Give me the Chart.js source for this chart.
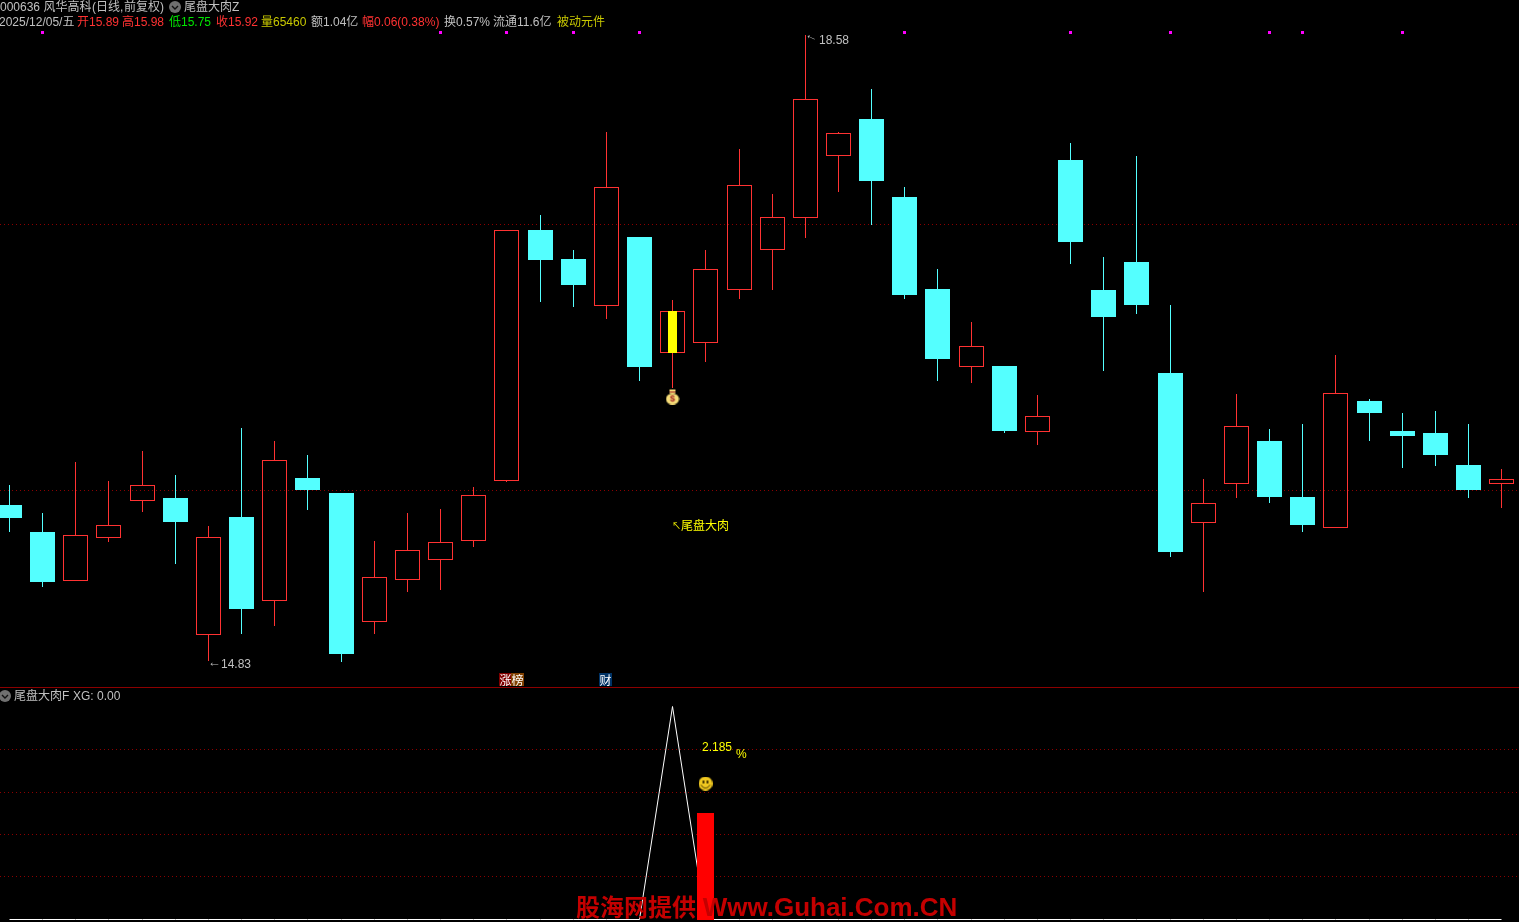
<!DOCTYPE html>
<html>
<head>
<meta charset="utf-8">
<title>尾盘大肉</title>
<script src="https://cdn.jsdelivr.net/npm/chart.js@4"></script>
<style>
  html, body { margin: 0; padding: 0; background: #000; width: 1519px; height: 922px; overflow: hidden; }
  canvas { position: absolute; left: 0; display: block; }
  #kline { top: 0; }
  #xg { top: 688px; }
  #split { position: absolute; left: 0; top: 687px; width: 1519px; height: 1px; background: #8c0000; }
  .t { position: absolute; white-space: pre; font: 12px/14px "Liberation Sans", "Noto Sans CJK SC", sans-serif; color: #c0c0c0; }
  .r { color: #ff3232; } .g { color: #00e600; } .y { color: #c8c800; } .ye { color: #ffff00; }
  .badge { position: absolute; top: 673px; width: 13px; height: 13px; color: #fff; text-align: center; font: 12px/13px "Noto Sans CJK SC", sans-serif; }
  .drop { position: absolute; width: 12px; height: 12px; }
  #mark { position: absolute; left: 576px; top: 892px; white-space: pre; color: #c40000; font: bold 24px/30px "Liberation Sans", "Noto Sans CJK SC", sans-serif; }
  #mark span { font-size: 26px; }
</style>
</head>
<body>
<canvas id="kline" width="1519" height="687"></canvas>
<div id="split"></div>
<canvas id="xg" width="1519" height="234"></canvas>

<span class="t" style="left:0;top:0">000636 风华高科</span>
<span class="t" style="left:92px;top:0">(日线,</span>
<span class="t" style="left:124px;top:0">前复权)</span>
<svg class="drop" style="left:169px;top:1px" viewBox="0 0 12 12"><circle cx="6" cy="6" r="6" fill="#707070"/><path d="M3 5l3 3 3-3" stroke="#111" stroke-width="1.4" fill="none"/></svg>
<span class="t" style="left:184px;top:0">尾盘大肉Z</span>

<span class="t" style="left:-1px;top:15px">2025/12/05/五</span>
<span class="t r" style="left:77px;top:15px">开15.89</span>
<span class="t r" style="left:122px;top:15px">高15.98</span>
<span class="t g" style="left:169px;top:15px">低15.75</span>
<span class="t r" style="left:216px;top:15px">收15.92</span>
<span class="t y" style="left:261px;top:15px">量65460</span>
<span class="t" style="left:311px;top:15px">额1.04亿</span>
<span class="t r" style="left:362px;top:15px">幅0.06(0.38%)</span>
<span class="t" style="left:444px;top:15px">换0.57%</span>
<span class="t" style="left:493px;top:15px">流通11.6亿</span>
<span class="t y" style="left:557px;top:15px">被动元件</span>

<span class="t" style="left:806px;top:26px;transform:rotate(24deg) scaleX(1.1);transform-origin:0 50%">←</span>
<span class="t" style="left:819px;top:33px">18.58</span>
<span class="t" style="left:208px;top:655px;transform:scaleX(1.1);transform-origin:0 50%">←</span>
<span class="t" style="left:221px;top:657px">14.83</span>
<span class="t ye" style="left:672px;top:519px;font-size:9px">↖</span>
<span class="t ye" style="left:681px;top:519px">尾盘大肉</span>

<span class="badge" style="left:499px;background:#800000">涨</span>
<span class="badge" style="left:511px;background:#804000">榜</span>
<span class="badge" style="left:599px;background:#003366">财</span>

<svg class="drop" style="left:-1px;top:690px" viewBox="0 0 12 12"><circle cx="6" cy="6" r="6" fill="#707070"/><path d="M3 5l3 3 3-3" stroke="#111" stroke-width="1.4" fill="none"/></svg>
<span class="t" style="left:14px;top:689px">尾盘大肉F</span>
<span class="t" style="left:73px;top:689px">XG: 0.00</span>
<span class="t ye" style="left:702px;top:740px">2.185</span>
<span class="t ye" style="left:736px;top:747px">%</span>
<div id="mark">股海网提供 <span>Www.Guhai.Com.CN</span></div>

<script>
// ---------------- data ----------------
const OPEN = [15.766,15.603,15.310,15.568,15.789,15.807,14.987,15.693,15.190,15.927,15.837,15.065,15.316,15.436,15.550,15.909,17.412,17.239,16.957,17.370,16.675,16.735,17.053,17.293,17.484,17.856,18.077,17.610,17.059,16.592,16.598,16.202,17.832,17.053,17.221,16.556,15.657,15.891,16.148,15.813,15.627,16.388,16.208,16.196,16.005,15.89];
const CLOSE = [15.688,15.304,15.585,15.645,15.885,15.663,15.573,15.142,16.035,15.855,14.873,15.334,15.496,15.544,15.825,17.412,17.233,17.083,17.670,16.592,16.927,17.179,17.682,17.490,18.197,17.993,17.706,17.023,16.640,16.717,16.208,16.298,17.340,16.891,16.963,15.484,15.777,16.238,15.813,15.645,16.436,16.316,16.178,16.065,15.855,15.92];
const HIGH = [15.885,15.717,16.023,15.909,16.088,15.945,15.639,16.226,16.148,16.065,15.837,15.550,15.717,15.741,15.873,17.412,17.502,17.293,17.999,17.370,16.993,17.293,17.898,17.628,18.58,17.999,18.257,17.670,17.179,16.861,16.598,16.424,17.934,17.251,17.856,16.963,15.921,16.430,16.220,16.250,16.664,16.400,16.316,16.328,16.250,15.98];
const LOW = [15.604,15.274,15.310,15.544,15.723,15.412,14.83,14.993,15.041,15.735,14.825,14.993,15.244,15.256,15.514,15.903,16.981,16.951,16.879,16.508,16.466,16.622,16.999,17.053,17.365,17.640,17.442,16.999,16.508,16.496,16.196,16.125,17.209,16.568,16.909,15.454,15.244,15.807,15.777,15.603,15.627,16.148,15.987,15.999,15.807,15.75];

const PRICE_GRID = [15.855, 17.448];
const DOT_DAYS = [1, 13, 15, 17, 19, 27, 32, 35, 38, 39, 42];
const DOT_PRICE = 18.595;
const SIGNAL_DAY = 20;
const BAG_PRICE = 16.418;

const XG_LINE = [0,0,0,0,0,0,0,0,0,0,0,0,0,0,0,0,0,0,0,0,5,0,0,0,0,0,0,0,0,0,0,0,0,0,0,0,0,0,0,0,0,0,0,0,0,0];
const XG_GRID = [1.012, 2, 2.988, 4];
const XG_BAR_DAY = 21;
const XG_BAR = 2.506;
const SMILE_VALUE = 3.21;

// ---------------- helpers ----------------
const RED = "#ff3232", CYAN = "#54ffff", GRID = "#8c0000";
const days = OPEN.map((_, i) => i);
const isUp = (i) => CLOSE[i] >= OPEN[i];
const candleColor = days.map(i => isUp(i) ? RED : CYAN);

// same x window on both panes so the days line up
const X_MIN = -0.28649, X_MAX = 45.5217;

// crisp pixels like the original, which is not antialiased
const snap = {
  id: "snap",
  beforeDatasetsDraw(chart) {
    chart.getSortedVisibleDatasetMetas().forEach(meta => {
      meta.data.forEach(el => {
        if (el.x === undefined) return;
        el.x = Math.floor(el.x) + 0.5;
        if (meta.type === "bar") {
          el.y = Math.round(el.y);
          el.base = Math.round(el.base);
        } else {
          el.y = Math.floor(el.y) + 0.5;
        }
      });
    });
  }
};

const baseOptions = (yMin, yMax, gridValues) => ({
  responsive: false,
  animation: false,
  devicePixelRatio: 1,
  events: [],
  layout: { padding: 0, autoPadding: false },
  plugins: { legend: { display: false }, tooltip: { enabled: false } },
  scales: {
    x: { type: "linear", display: false, offset: false, min: X_MIN, max: X_MAX },
    y: {
      min: yMin, max: yMax,
      afterBuildTicks: (axis) => { axis.ticks = gridValues.map(v => ({ value: v })); },
      ticks: { display: false },
      border: { display: false, dash: [1, 3] },
      grid: { color: GRID, drawTicks: false, lineWidth: 1 }
    }
  }
});

const barSet = (data, width, color, order, extra = {}) => ({
  type: "bar", data, order,
  grouped: false,
  barThickness: width, maxBarThickness: width,
  inflateAmount: 0,
  borderSkipped: false,
  backgroundColor: color,
  borderWidth: 0,
  ...extra
});

// icons as point styles
const makeBag = () => {
  const c = document.createElement("canvas"); c.width = 14; c.height = 16;
  const g = c.getContext("2d");
  g.fillStyle = "#f6dc78";
  g.beginPath(); g.ellipse(7, 10.5, 6.5, 5.5, 0, 0, Math.PI * 2); g.fill();
  g.fillRect(4, 1, 6, 4);
  g.fillStyle = "#a02020"; g.fillRect(4, 3, 6, 1);
  g.font = "bold 9px 'Liberation Sans'"; g.textAlign = "center"; g.textBaseline = "middle";
  g.fillText("$", 7, 11);
  return c;
};
const makeSmile = () => {
  const c = document.createElement("canvas"); c.width = 14; c.height = 14;
  const g = c.getContext("2d");
  g.fillStyle = "#f0c820";
  g.beginPath(); g.arc(7, 7, 7, 0, Math.PI * 2); g.fill();
  g.fillStyle = "#4a3a00"; g.fillRect(4, 4, 2, 3); g.fillRect(8, 4, 2, 3);
  g.strokeStyle = "#4a3a00"; g.lineWidth = 1;
  g.beginPath(); g.arc(7, 7, 4.5, 0.3, Math.PI - 0.3); g.stroke();
  return c;
};

// ---------------- k-line pane ----------------
new Chart(document.getElementById("kline"), {
  type: "bar",
  plugins: [snap],
  data: {
    datasets: [
      { type: "line", order: 1, showLine: false, pointStyle: "rect", pointRadius: 2.13, pointBorderWidth: 0,
        pointBackgroundColor: "#ff00ff", data: DOT_DAYS.map(d => ({ x: d, y: DOT_PRICE })) },
      { type: "line", order: 1, showLine: false, pointStyle: makeBag(), pointRadius: 8,
        data: [{ x: SIGNAL_DAY, y: BAG_PRICE }] },
      barSet([{ x: SIGNAL_DAY, y: [OPEN[SIGNAL_DAY], CLOSE[SIGNAL_DAY]] }], 9, "#ffff00", 2),
      barSet(days.map(i => ({ x: i, y: [OPEN[i], CLOSE[i]] })), 25,
        days.map(i => isUp(i) ? "rgba(0,0,0,0)" : CYAN), 3,
        { borderWidth: 1, borderColor: candleColor }),
      barSet(days.map(i => ({ x: i, y: [Math.max(OPEN[i], CLOSE[i]), HIGH[i]] })), 1, candleColor, 4),
      barSet(days.map(i => ({ x: i, y: [LOW[i], Math.min(OPEN[i], CLOSE[i])] })), 1, candleColor, 4)
    ]
  },
  options: baseOptions(14.676, 18.7896, PRICE_GRID)
});

// ---------------- XG pane ----------------
new Chart(document.getElementById("xg"), {
  type: "bar",
  plugins: [snap],
  data: {
    datasets: [
      { type: "line", order: 1, showLine: false, pointStyle: makeSmile(), pointRadius: 7,
        data: [{ x: XG_BAR_DAY, y: SMILE_VALUE }] },
      barSet([{ x: XG_BAR_DAY, y: XG_BAR }], 17, "#ff0000", 2),
      { type: "line", order: 3, borderColor: "#ffffff", borderWidth: 1, tension: 0, pointRadius: 0,
        data: days.map(i => ({ x: i, y: XG_LINE[i] })) }
    ]
  },
  options: baseOptions(-0.0588, 5.447, XG_GRID)
});
</script>
</body>
</html>
